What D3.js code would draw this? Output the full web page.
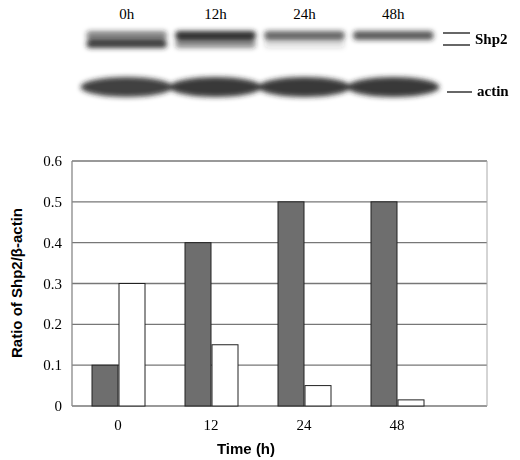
<!DOCTYPE html>
<html><head><meta charset="utf-8">
<script src="https://cdn.jsdelivr.net/npm/d3@7"></script>
<style>body{margin:0;background:#fff}</style>
</head><body>
<div id="chart"></div>
<script>
const categories = ["0", "12", "24", "48"];
const darkValues = [0.1, 0.4, 0.5, 0.5];
const whiteValues = [0.3, 0.15, 0.05, 0.015];
const yTicks = [0, 0.1, 0.2, 0.3, 0.4, 0.5, 0.6];
const laneLabels = ["0h", "12h", "24h", "48h"];
// band intensity for the blot (0..1)
const shp2Upper = [0.55, 0.95, 0.7, 0.75];
const shp2Lower = [0.9, 0.5, 0.15, 0.0];
const actinBand = [0.85, 0.9, 0.9, 0.9];

const width = 520, height = 460;
const svg = d3.select("#chart").append("svg")
  .attr("width", width).attr("height", height);

const blur = svg.append("defs").append("filter").attr("id", "blur")
  .attr("x", "-20%").attr("y", "-50%").attr("width", "140%").attr("height", "200%");
blur.append("feGaussianBlur").attr("stdDeviation", 2.5);

// blot
const lane = d3.scaleBand().domain(laneLabels).range([80, 440]).padding(0.05);
svg.selectAll(".lane").data(laneLabels).join("text")
  .attr("x", d => lane(d) + lane.bandwidth() / 2).attr("y", 19)
  .attr("text-anchor", "middle").attr("font-family", "Liberation Serif")
  .attr("font-size", 15).text(d => d);

const blot = svg.append("g").attr("filter", "url(#blur)");
blot.selectAll(".up").data(laneLabels).join("rect")
  .attr("x", d => lane(d) + 2).attr("y", 31).attr("width", lane.bandwidth() - 4).attr("height", 9)
  .attr("rx", 4).attr("fill", "#222").attr("opacity", (d, i) => shp2Upper[i]);
blot.selectAll(".low").data(laneLabels).join("rect")
  .attr("x", d => lane(d) + 2).attr("y", 40).attr("width", lane.bandwidth() - 4).attr("height", 8)
  .attr("rx", 4).attr("fill", "#222").attr("opacity", (d, i) => shp2Lower[i]);
blot.selectAll(".act").data(laneLabels).join("ellipse")
  .attr("cx", d => lane(d) + lane.bandwidth() / 2).attr("cy", 87)
  .attr("rx", lane.bandwidth() / 2 + 4).attr("ry", 10)
  .attr("fill", "#222").attr("opacity", (d, i) => actinBand[i]);

const marks = svg.append("g").attr("stroke", "#000").attr("stroke-width", 1.2);
marks.append("line").attr("x1", 443).attr("x2", 470).attr("y1", 33).attr("y2", 33);
marks.append("line").attr("x1", 443).attr("x2", 470).attr("y1", 45).attr("y2", 45);
marks.append("line").attr("x1", 447).attr("x2", 472).attr("y1", 92).attr("y2", 92);
svg.append("text").attr("x", 475).attr("y", 44).attr("font-family", "Liberation Serif")
  .attr("font-weight", "bold").attr("font-size", 15).text("Shp2");
svg.append("text").attr("x", 477).attr("y", 96).attr("font-family", "Liberation Serif")
  .attr("font-weight", "bold").attr("font-size", 15).text("actin");

// bar chart
const plotLeft = 72, plotRight = 487, plotTop = 161, plotBottom = 406;
const y = d3.scaleLinear().domain([0, 0.6]).range([plotBottom, plotTop]);
const x = d3.scaleBand().domain(categories).range([71.5, 443.5]);
const barW = 26;

const g = svg.append("g");
g.selectAll(".grid").data(yTicks).join("line")
  .attr("x1", plotLeft).attr("x2", plotRight).attr("y1", d => y(d)).attr("y2", d => y(d))
  .attr("stroke", "#777").attr("stroke-width", 1.3);
g.append("line").attr("x1", plotLeft).attr("x2", plotLeft).attr("y1", plotTop).attr("y2", plotBottom)
  .attr("stroke", "#888").attr("stroke-width", 1.3);
g.append("line").attr("x1", plotRight).attr("x2", plotRight).attr("y1", plotTop).attr("y2", plotBottom)
  .attr("stroke", "#aaa").attr("stroke-width", 1);

const cx = d => x(d) + x.bandwidth() / 2;
g.selectAll(".dark").data(categories).join("rect")
  .attr("x", d => cx(d) - barW).attr("width", barW)
  .attr("y", (d, i) => y(darkValues[i])).attr("height", (d, i) => plotBottom - y(darkValues[i]))
  .attr("fill", "#6e6e6e").attr("stroke", "#222").attr("stroke-width", 1);
g.selectAll(".white").data(categories).join("rect")
  .attr("x", d => cx(d) + 1).attr("width", barW)
  .attr("y", (d, i) => y(whiteValues[i])).attr("height", (d, i) => plotBottom - y(whiteValues[i]))
  .attr("fill", "#fff").attr("stroke", "#222").attr("stroke-width", 1);

g.selectAll(".yt").data(yTicks).join("text")
  .attr("x", 62).attr("y", d => y(d) + 5).attr("text-anchor", "end")
  .attr("font-family", "Liberation Serif").attr("font-size", 15).text(d => d);
g.selectAll(".xt").data(categories).join("text")
  .attr("x", cx).attr("y", 430).attr("text-anchor", "middle")
  .attr("font-family", "Liberation Serif").attr("font-size", 15).text(d => d);

svg.append("text").attr("x", 246).attr("y", 454).attr("text-anchor", "middle")
  .attr("font-family", "Liberation Sans").attr("font-weight", "bold").attr("font-size", 15)
  .text("Time (h)");
svg.append("text").attr("transform", "translate(22,283) rotate(-90)").attr("text-anchor", "middle")
  .attr("font-family", "Liberation Sans").attr("font-weight", "bold").attr("font-size", 15)
  .text("Ratio of Shp2/β-actin");
</script>
</body></html>
